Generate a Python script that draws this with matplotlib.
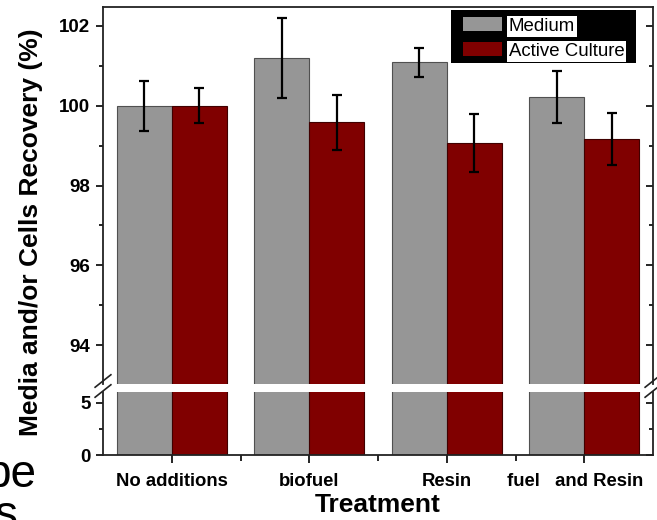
import numpy as np
import matplotlib
matplotlib.use('Agg')
import matplotlib.pyplot as plt
from matplotlib.patches import Patch, Rectangle
from matplotlib.ticker import MultipleLocator
from matplotlib.transforms import ScaledTranslation

plt.rcParams['font.family'] = ['Liberation Sans', 'DejaVu Sans']

# data
treatments = ['No additions', 'biofuel', 'Resin', 'fuel   and Resin']
medium = [100.0, 101.2, 101.09, 100.22]
medium_err = [0.63, 1.01, 0.36, 0.65]
active = [100.0, 99.58, 99.07, 99.17]
active_err = [0.44, 0.69, 0.73, 0.66]

grey = '#969696'
red = '#800000'

W, H = 657, 520
fig = plt.figure(figsize=(W / 100, H / 100), dpi=100)

def fx(px):
    return px / W

def fy(px):
    return 1 - px / H

left, right = 103, 653
ax_top = fig.add_axes([fx(left), fy(384), fx(right - left), fy(7) - fy(384)])
ax_bot = fig.add_axes([fx(left), fy(455), fx(right - left), fy(392) - fy(455)])

x = np.arange(1, len(treatments) + 1)
bw = 0.4

for ax in (ax_top, ax_bot):
    ax.bar(x - bw / 2, medium, bw, color=grey, edgecolor='#505050', linewidth=0.8)
    ax.bar(x + bw / 2, active, bw, color=red, edgecolor='#400000', linewidth=0.8)
    ax.set_xlim(0.5, 4.5)
    for s in ax.spines.values():
        s.set_linewidth(1.3)
        s.set_color('#222222')

ax_top.errorbar(x - bw / 2, medium, yerr=medium_err, fmt='none', ecolor='black',
                elinewidth=1.6, capsize=3.5, capthick=1.6)
ax_top.errorbar(x + bw / 2, active, yerr=active_err, fmt='none', ecolor='black',
                elinewidth=1.6, capsize=3.5, capthick=1.6)

ax_top.set_ylim(93.025, 102.475)
ax_bot.set_ylim(0, 6.0)

ax_top.spines['bottom'].set_visible(False)
ax_bot.spines['top'].set_visible(False)
ax_top.tick_params(axis='x', which='both', bottom=False, labelbottom=False)

ax_top.yaxis.set_major_locator(MultipleLocator(2))
ax_top.yaxis.set_minor_locator(MultipleLocator(1))
ax_bot.yaxis.set_major_locator(MultipleLocator(5))
ax_bot.yaxis.set_minor_locator(MultipleLocator(2.5))

for ax in (ax_top, ax_bot):
    ax.tick_params(axis='y', which='both', left=True, right=True, direction='out',
                   width=1.2, labelsize=13.5, pad=4)
    ax.tick_params(axis='y', which='major', length=5)
    ax.tick_params(axis='y', which='minor', length=3)
    for t in ax.get_yticklabels():
        t.set_fontweight('bold')

# right side ticks point inward
for ax in (ax_top, ax_bot):
    for tk in ax.yaxis.get_major_ticks() + ax.yaxis.get_minor_ticks():
        tk.tick2line.set_marker(matplotlib.lines.TICKLEFT)

ax_bot.set_xticks(x)
ax_bot.set_xticklabels(treatments, fontsize=13.3, fontweight='bold')
ax_bot.set_xticks([1.5, 2.5, 3.5], minor=True)
ax_bot.tick_params(axis='x', which='major', length=6, width=1.2, pad=7)
ax_bot.tick_params(axis='x', which='minor', length=4, width=1.2)
ax_bot.set_xlabel('Treatment', fontsize=19, fontweight='bold', labelpad=2)
last = ax_bot.get_xticklabels()[-1]
last.set_transform(last.get_transform() + ScaledTranslation(-9 / 100, 0, fig.dpi_scale_trans))

# break marks
d = 0.012
kw = dict(transform=fig.transFigure, color='#222222', lw=1.2, clip_on=False)
for xe in (fx(left), fx(right)):
    for yb in (fy(381), fy(391)):
        fig.add_artist(plt.Line2D([xe - d, xe + d], [yb - 0.012, yb + 0.012], **kw))

fig.text(fx(31), fy(232), 'Media and/or Cells Recovery (%)', rotation=90,
         fontsize=19, fontweight='bold', ha='center', va='center')

# legend: black panel behind, labels on white boxes
fig.add_artist(Rectangle((fx(451), fy(63)), fx(636 - 451), fy(10) - fy(63),
                         transform=fig.transFigure, facecolor='black',
                         edgecolor='none', zorder=4))
handles = [Patch(facecolor=grey, edgecolor='none', label='Medium'),
           Patch(facecolor=red, edgecolor='none', label='Active Culture')]
leg = fig.legend(handles=handles, loc='upper left',
                 bbox_to_anchor=(fx(463), fy(17)), borderaxespad=0,
                 fontsize=13.4, handlelength=2.1, handleheight=0.8,
                 handletextpad=0.35, labelspacing=0.4, borderpad=0,
                 frameon=False)
leg.set_zorder(5)
for t in leg.get_texts():
    t.set_bbox(dict(facecolor='white', edgecolor='none', pad=1.5))

# stray slide text cut at the left edge
fig.text(fx(36), fy(487), 'be', fontsize=33, ha='right', va='baseline')
fig.text(fx(18), fy(528), 's', fontsize=33, ha='right', va='baseline')

fig.savefig('out.png', dpi=100)
